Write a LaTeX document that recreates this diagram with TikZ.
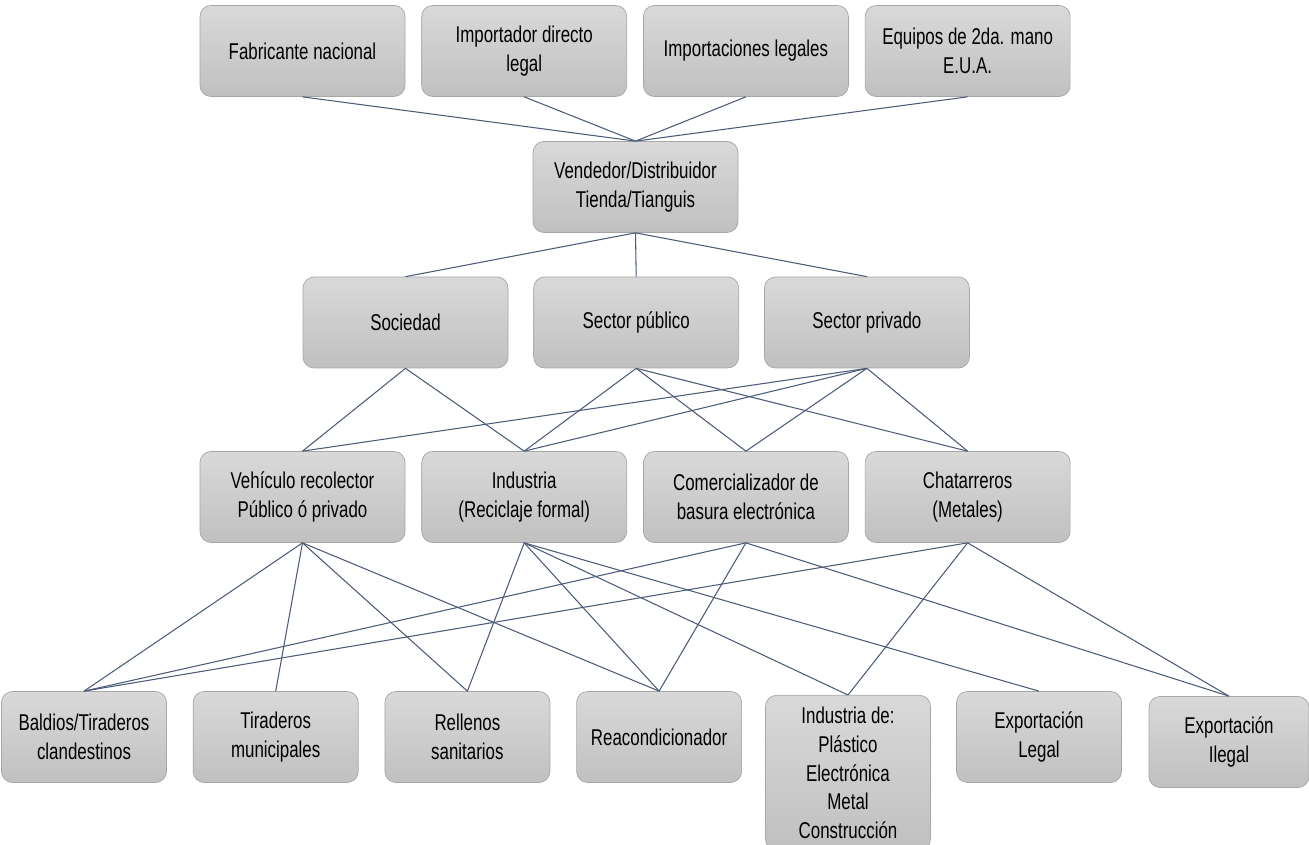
\documentclass[tikz,border=0pt]{standalone}
\usepackage{fontspec}
\setmainfont{Liberation Sans}[FakeStretch=0.74]
\usepackage{xcolor}
\usepackage{tikz}
\usetikzlibrary{positioning}
\definecolor{boxtop}{HTML}{D9D9D9}
\definecolor{boxbottom}{HTML}{C0C0C0}
\definecolor{boxline}{HTML}{A6A6A6}
\definecolor{linkcol}{HTML}{4B5B78}

\begin{document}
\begin{tikzpicture}[
box/.style={draw=boxline, rounded corners=0.22cm, top color=boxtop, bottom color=boxbottom, align=center, minimum width=4.1cm, minimum height=1.82cm, inner sep=2pt, font=\fontsize{13}{16.3}\selectfont},
sink/.style={box, minimum width=3.3cm},
link/.style={draw=linkcol, line width=0.6pt}
]
\useasboundingbox (0,0) rectangle (26.18,-16.9);
\clip (0,0) rectangle (26.18,-16.9);
% sources
\node[box] (fab) at (6.05,-1.02) {Fabricante nacional};
\node[box, right=0.32cm of fab] (impdir) {Importador directo\\legal};
\node[box, right=0.32cm of impdir] (implegal) {Importaciones legales};
\node[box, right=0.32cm of implegal] (equipos) {Equipos de 2da. mano\\E.U.A.};
\node[box] (vendedor) at (12.71,-3.74) {Vendedor/Distribuidor\\Tienda/Tianguis};
% users
\node[box] (sociedad) at (8.11,-6.45) {Sociedad};
\node[box, right=0.5cm of sociedad] (publico) {Sector público};
\node[box, right=0.5cm of publico] (privado) {Sector privado};
% collectors
\node[box] (vehiculo) at (6.05,-9.94) {Vehículo recolector\\Público ó privado};
\node[box, right=0.32cm of vehiculo] (industria) {Industria\\(Reciclaje formal)};
\node[box, right=0.32cm of industria] (comerc) {Comercializador de\\basura electrónica};
\node[box, right=0.32cm of comerc] (chatarra) {Chatarreros\\(Metales)};
% destinations
\node[sink] (baldios) at (1.68,-14.74) {Baldios/Tiraderos\\clandestinos};
\node[sink, right=0.52cm of baldios] (tiraderos) {Tiraderos\\municipales};
\node[sink, right=0.52cm of tiraderos] (rellenos) {Rellenos\\sanitarios};
\node[sink, right=0.52cm of rellenos] (reacond) {Reacondicionador};
\node[sink, anchor=north, minimum height=3.1cm] (indde) at (16.96,-13.9) {Industria de:\\Plástico\\Electrónica\\Metal\\Construcción};
\node[sink] (explegal) at (20.78,-14.74) {Exportación\\Legal};
\node[sink, minimum width=3.2cm] (expilegal) at (24.58,-14.84) {Exportación\\Ilegal};

\draw[link] (fab.south) -- (vendedor.north);
\draw[link] (impdir.south) -- (vendedor.north);
\draw[link] (implegal.south) -- (vendedor.north);
\draw[link] (equipos.south) -- (vendedor.north);
\draw[link] (vendedor.south) -- (sociedad.north);
\draw[link] (vendedor.south) -- (publico.north);
\draw[link] (vendedor.south) -- (privado.north);
\draw[link] (sociedad.south) -- (vehiculo.north);
\draw[link] (sociedad.south) -- (industria.north);
\draw[link] (publico.south) -- (industria.north);
\draw[link] (publico.south) -- (comerc.north);
\draw[link] (publico.south) -- (chatarra.north);
\draw[link] (privado.south) -- (vehiculo.north);
\draw[link] (privado.south) -- (industria.north);
\draw[link] (privado.south) -- (comerc.north);
\draw[link] (privado.south) -- (chatarra.north);
\draw[link] (vehiculo.south) -- (baldios.north);
\draw[link] (vehiculo.south) -- (tiraderos.north);
\draw[link] (vehiculo.south) -- (rellenos.north);
\draw[link] (vehiculo.south) -- (reacond.north);
\draw[link] (industria.south) -- (rellenos.north);
\draw[link] (industria.south) -- (reacond.north);
\draw[link] (industria.south) -- (indde.north);
\draw[link] (industria.south) -- (explegal.north);
\draw[link] (comerc.south) -- (baldios.north);
\draw[link] (comerc.south) -- (reacond.north);
\draw[link] (comerc.south) -- (expilegal.north);
\draw[link] (chatarra.south) -- (baldios.north);
\draw[link] (chatarra.south) -- (indde.north);
\draw[link] (chatarra.south) -- (expilegal.north);
\end{tikzpicture}
\end{document}
